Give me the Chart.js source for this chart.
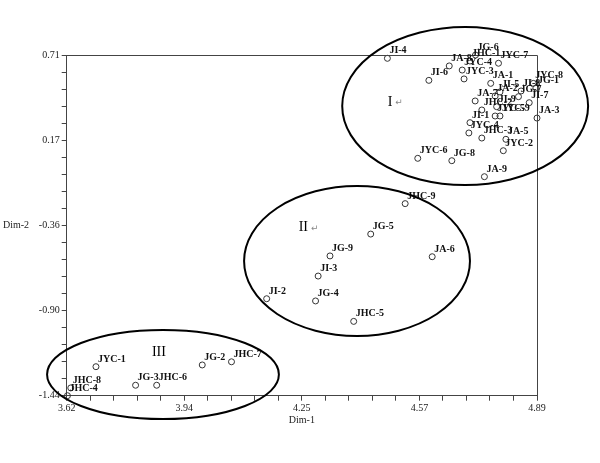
<!DOCTYPE html>
<html>
<head>
<meta charset="utf-8">
<script src="https://cdn.jsdelivr.net/npm/chart.js@4/dist/chart.umd.min.js"></script>
<style>
  body { margin: 0; background: #fff; }
  #wrap { width: 600px; height: 463px; }
</style>
</head>
<body>
<div id="wrap"><canvas id="mapChart" width="600" height="463"></canvas></div>
<script>
// sample names and their positions on the two dimensions
const sampleNames = [
    "JI-4", "JG-6", "JA-8", "JHC-1", "JYC-7", "JYC-4", "JYC-3", "JI-6",
    "JA-1", "JI-5", "JA-2", "JYC-8", "JI-8", "JG-1", "JG-7", "JA-7",
    "JI-7", "JHC-2", "JI-9", "JYC-5", "JYC-9", "JA-3", "JI-1", "JYC-4",
    "JHC-3", "JA-5", "JYC-2", "JYC-6", "JG-8", "JA-9",
    "JHC-9", "JG-5", "JG-9", "JA-6", "JI-3", "JI-2", "JG-4", "JHC-5",
    "JYC-1", "JHC-8", "JHC-4", "JG-3", "JHC-6", "JG-2", "JHC-7"
];
const dim1 = [
    4.486, 4.724, 4.653, 4.709, 4.786, 4.688, 4.693, 4.598,
    4.765, 4.790, 4.777, 4.880, 4.847, 4.887, 4.840, 4.723,
    4.869, 4.741, 4.781, 4.777, 4.790, 4.890, 4.709, 4.706,
    4.741, 4.806, 4.799, 4.568, 4.660, 4.748,
    4.534, 4.441, 4.331, 4.607, 4.299, 4.160, 4.292, 4.395,
    3.699, 3.631, 3.622, 3.806, 3.863, 3.986, 4.065
];
const dim2 = [
    0.689, 0.710, 0.641, 0.672, 0.658, 0.615, 0.559, 0.550,
    0.531, 0.477, 0.451, 0.531, 0.483, 0.502, 0.447, 0.420,
    0.409, 0.363, 0.384, 0.325, 0.325, 0.312, 0.283, 0.218,
    0.186, 0.178, 0.106, 0.058, 0.043, -0.058,
    -0.228, -0.420, -0.558, -0.563, -0.685, -0.828, -0.842, -0.971,
    -1.257, -1.391, -1.440, -1.374, -1.374, -1.246, -1.226
];

// axis ranges and tick labels
const xMin = 3.62, xMax = 4.89;
const yMin = -1.44, yMax = 0.71;
const xTickLabels = ["3.62", "3.94", "4.25", "4.57", "4.89"];
const yTickLabels = ["-1.44", "-0.90", "-0.36", "0.17", "0.71"];

// cluster rings (centre and half widths in data units) and their names
const clusterNames = ["I", "II", "III"];
const clusterX = [4.696, 4.404, 3.880];
const clusterY = [0.388, -0.590, -1.306];
const clusterRx = [0.332, 0.305, 0.313];
const clusterRy = [0.4985, 0.473, 0.281];
const clusterNameX = [4.493, 4.259, 3.869];
const clusterNameY = [0.413, -0.379, -1.164];
const clusterMark = ["\u21b5", "\u21b5", ""];

const SERIF = "'Liberation Serif', 'Times New Roman', serif";

// ticks: 4 majors intervals, each split into 5
function buildTicks(min, max) {
    const out = [];
    const step = (max - min) / 20;
    for (let i = 0; i <= 20; i++) {
        out.push({ value: min + step * i });
    }
    return out;
}

const decorPlugin = {
    id: "decor",
    afterDraw(chart) {
        const { ctx, chartArea, scales } = chart;
        const xs = scales.x, ys = scales.y;
        ctx.save();
        // frame top and right
        ctx.strokeStyle = "#444";
        ctx.lineWidth = 1;
        ctx.beginPath();
        ctx.moveTo(chartArea.left, chartArea.top + 0.5);
        ctx.lineTo(chartArea.right + 0.5, chartArea.top + 0.5);
        ctx.lineTo(chartArea.right + 0.5, chartArea.bottom);
        ctx.stroke();

        // point labels
        const meta = chart.getDatasetMeta(0);
        ctx.fillStyle = "#111";
        ctx.font = "bold 10px " + SERIF;
        ctx.textAlign = "left";
        ctx.textBaseline = "alphabetic";
        meta.data.forEach((pt, i) => {
            ctx.fillText(sampleNames[i], pt.x + 2, pt.y - 5);
        });

        // cluster rings
        ctx.strokeStyle = "#000";
        ctx.lineWidth = 2;
        clusterNames.forEach((name, i) => {
            const cx = xs.getPixelForValue(clusterX[i]);
            const cy = ys.getPixelForValue(clusterY[i]);
            const rx = Math.abs(xs.getPixelForValue(clusterX[i] + clusterRx[i]) - cx);
            const ry = Math.abs(ys.getPixelForValue(clusterY[i] + clusterRy[i]) - cy);
            ctx.beginPath();
            ctx.ellipse(cx, cy, rx, ry, 0, 0, Math.PI * 2);
            ctx.stroke();

            const nx = xs.getPixelForValue(clusterNameX[i]);
            const ny = ys.getPixelForValue(clusterNameY[i]);
            ctx.font = "14px " + SERIF;
            ctx.fillStyle = "#000";
            ctx.textAlign = "center";
            ctx.textBaseline = "middle";
            ctx.fillText(name, nx, ny);
            if (clusterMark[i]) {
                const w = ctx.measureText(name).width;
                ctx.font = "9px 'DejaVu Sans', sans-serif";
                ctx.fillStyle = "#888";
                ctx.textAlign = "left";
                ctx.fillText(clusterMark[i], nx + w / 2 + 3, ny + 1);
            }
        });

        // y axis title, written flat
        ctx.font = "10px " + SERIF;
        ctx.fillStyle = "#222";
        ctx.textAlign = "left";
        ctx.textBaseline = "middle";
        ctx.fillText("Dim-2", 3, ys.getPixelForValue(-0.36) + 1);
        ctx.restore();
    }
};

document.addEventListener("DOMContentLoaded", () => {
    const ctx = document.getElementById("mapChart").getContext("2d");
    const points = dim1.map((x, i) => ({ x: x, y: dim2[i] }));
    new Chart(ctx, {
        type: "scatter",
        data: {
            datasets: [
                {
                    data: points,
                    pointRadius: 3,
                    pointHoverRadius: 3,
                    borderColor: "#333",
                    borderWidth: 1,
                    backgroundColor: "rgba(255,255,255,0)",
                    clip: false,
                },
            ],
        },
        options: {
            responsive: false,
            animation: false,
            events: [],
            layout: { padding: { left: 0, top: 55, right: 63, bottom: 0 } },
            plugins: { legend: { display: false }, tooltip: { enabled: false } },
            scales: {
                x: {
                    type: "linear",
                    min: xMin,
                    max: xMax,
                    afterBuildTicks: (s) => { s.ticks = buildTicks(xMin, xMax); },
                    afterFit: (s) => { s.height = 67.3; },
                    grid: { drawOnChartArea: false, tickLength: 5, color: "#444" },
                    border: { color: "#444", width: 1 },
                    ticks: {
                        autoSkip: false,
                        maxRotation: 0,
                        padding: 2,
                        color: "#222",
                        font: { family: SERIF, size: 10 },
                        callback: (v, i) => (i % 5 === 0 ? xTickLabels[i / 5] : ""),
                    },
                    title: {
                        display: true,
                        text: "Dim-1",
                        color: "#222",
                        font: { family: SERIF, size: 10 },
                        padding: { top: 0, bottom: 37 },
                    },
                },
                y: {
                    type: "linear",
                    min: yMin,
                    max: yMax,
                    afterBuildTicks: (s) => { s.ticks = buildTicks(yMin, yMax); },
                    afterFit: (s) => { s.width = 66.7; },
                    grid: { drawOnChartArea: false, tickLength: 5, color: "#444" },
                    border: { color: "#444", width: 1 },
                    ticks: {
                        autoSkip: false,
                        padding: 2,
                        color: "#222",
                        font: { family: SERIF, size: 10 },
                        callback: (v, i) => (i % 5 === 0 ? yTickLabels[i / 5] : ""),
                    },
                },
            },
        },
        plugins: [decorPlugin],
    });
});
</script>
</body>
</html>
